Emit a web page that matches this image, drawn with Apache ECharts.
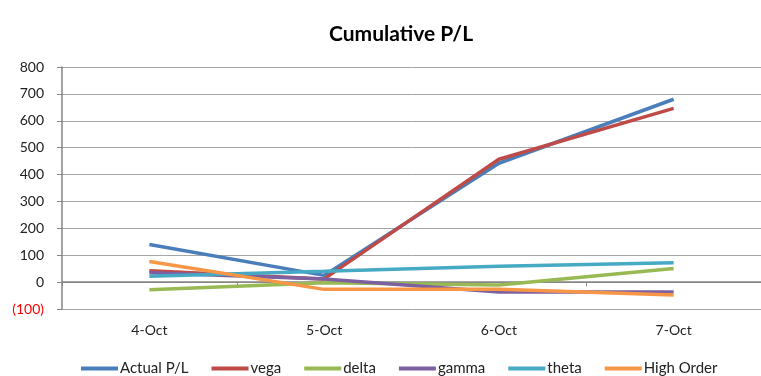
<!DOCTYPE html>
<html><head><meta charset="utf-8">
<script src="https://cdn.jsdelivr.net/npm/echarts@6/dist/echarts.min.js"></script>
<style>html,body{margin:0;padding:0;background:#fff}#c{width:761px;height:376px}</style>
</head><body><div id="c"></div>
<script>
const categories = ['4-Oct', '5-Oct', '6-Oct', '7-Oct'];
const actualPL = [140, 25, 442, 680];
const vega = [42, 12, 457, 646];
const delta = [-28, -2, -11, 51];
const gamma = [35, 12, -37, -37];
const theta = [22, 40, 59, 72];
const highOrder = [77, -27, -27, -48];
const seriesNames = ['Actual P/L', 'vega', 'delta', 'gamma', 'theta', 'High Order'];
const seriesData = [actualPL, vega, delta, gamma, theta, highOrder];
const colors = ['#4A7EBB', '#BE4B48', '#98B954', '#7D60A0', '#46AAC5', '#F79646'];
const yMin = -100, yMax = 800, yStep = 100;

const FONT = 'Lato, "Open Sans", sans-serif';
const chart = echarts.init(document.getElementById('c'));
const gridColors = [];
for (let v = yMin; v <= yMax; v += yStep) gridColors.push(v === 0 ? '#868686' : '#a6a6a6');

chart.setOption({
  animation: false,
  color: colors,
  title: {
    text: 'Cumulative P/L', left: 396, top: 19, textAlign: 'center',
    textStyle: { fontFamily: FONT, fontSize: 21, fontWeight: 'bold', color: '#000' }
  },
  legend: {
    bottom: -5, left: 76, itemWidth: 37, itemHeight: 4, itemGap: 23, icon: 'rect',
    textStyle: { fontFamily: FONT, fontSize: 15, color: '#222', padding: [0, 0, 0, -3] },
    data: seriesNames
  },
  grid: { left: 62, top: 67, width: 711, height: 242 },
  xAxis: [{
    type: 'category', data: categories, boundaryGap: true,
    axisLine: { show: false, onZero: false }, axisTick: { show: false },
    axisLabel: { fontFamily: FONT, fontSize: 14, color: '#222', margin: 14 }
  }, {
    type: 'category', data: categories, boundaryGap: true, position: 'bottom',
    axisLine: { show: true, onZero: true, lineStyle: { color: '#868686', width: 1.5 } },
    axisTick: { show: true, length: 4, lineStyle: { color: '#868686' } },
    axisLabel: { show: false }
  }],
  yAxis: {
    type: 'value', min: yMin, max: yMax, interval: yStep,
    axisLine: { show: true, lineStyle: { color: '#868686', width: 1.5 } },
    axisTick: { show: true, length: 5, lineStyle: { color: '#868686' } },
    splitLine: { show: true, lineStyle: { color: gridColors, width: 1 } },
    axisLabel: {
      fontFamily: FONT, fontSize: 14, color: '#222', margin: 18,
      formatter: v => v < 0 ? '{neg|(' + Math.abs(v) + ')}' : String(v),
      rich: { neg: { color: '#ff0000', fontFamily: FONT, fontSize: 14 } }
    }
  },
  series: seriesNames.map((n, i) => ({
    name: n, type: 'line', data: seriesData[i], symbol: 'none',
    lineStyle: { width: 3.5, color: colors[i] }, itemStyle: { color: colors[i] }
  }))
});
</script></body></html>
